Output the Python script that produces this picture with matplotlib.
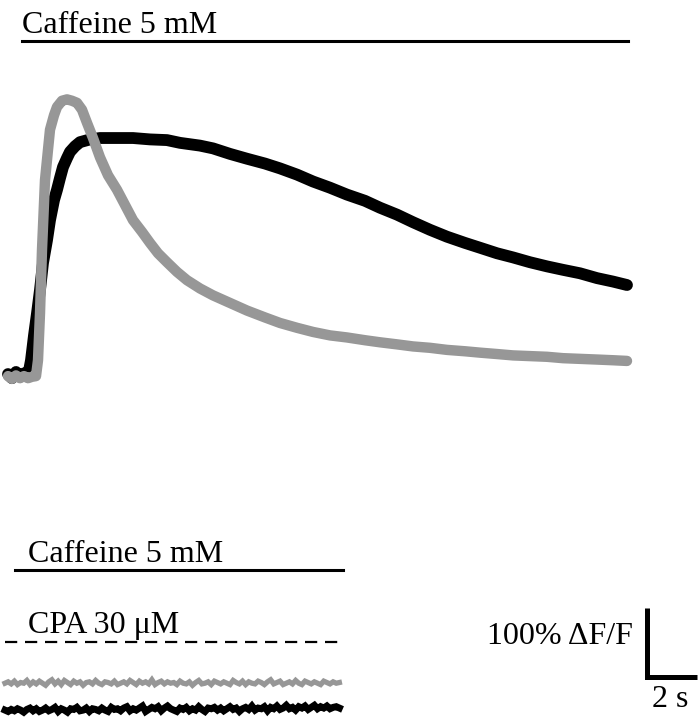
import matplotlib
matplotlib.use("Agg")
import matplotlib.pyplot as plt
import numpy as np

# ---- Top panel traces (time in s, ΔF/F in %) ----
black_t = [-0.08, 0.08, 0.24, 0.4, 0.56, 0.72, 0.84, 0.96, 1.08, 1.2, 1.32, 1.48, 1.6, 1.76,
           1.88, 2.0, 2.12, 2.28, 2.4, 2.6, 2.8, 3.2, 3.6, 4.2, 4.92, 5.6, 6.28, 6.8, 7.6,
           8.12, 8.8, 9.48, 10.2, 10.8, 11.48, 12.12, 12.8, 13.48, 14.2, 14.8, 15.48, 16.12,
           16.8, 17.48, 18.2, 18.8, 19.48, 20.12, 20.8, 21.48, 22.12, 22.8, 23.48, 24.12, 24.68]
black_v = [3, -3, 6, -1, 4, 0, 23, 59, 91, 125, 164, 197, 226, 255,
           270, 287, 303, 316, 325, 333, 339, 343, 345, 345, 345, 343, 342, 338, 334,
           330, 322, 315, 308, 301, 292, 282, 273, 263, 254, 244, 234, 223,
           212, 202, 193, 186, 178, 172, 165, 159, 154, 149, 142, 137, 132]

gray_t = [-0.08, 0.08, 0.24, 0.4, 0.56, 0.72, 0.88, 1.04, 1.12, 1.2, 1.28, 1.4, 1.52, 1.6,
          1.76, 1.88, 2.08, 2.28, 2.48, 2.68, 2.88, 3.08, 3.32, 3.6, 3.92, 4.28, 4.6, 4.92,
          5.28, 5.6, 5.92, 6.28, 6.68, 7.08, 7.6, 8.12, 8.8, 9.48, 10.2, 10.8, 11.48, 12.12,
          12.8, 13.48, 14.2, 14.8, 15.48, 16.12, 16.8, 17.48, 18.2, 18.8, 19.48, 20.12, 20.8,
          21.48, 22.12, 22.8, 23.48, 24.12, 24.68]
gray_v = [0, -4, 1, -3, 0, -3, -1, 0, 23, 91, 183, 284, 328, 357,
          378, 390, 399, 401, 399, 396, 386, 367, 345, 317, 291, 270, 248, 226,
          209, 193, 178, 165, 151, 139, 127, 117, 106, 95, 85, 77, 70, 64,
          59, 56, 52, 49, 46, 43, 41, 38, 36, 34, 32, 30, 29,
          28, 26, 25, 24, 23, 22]

# ---- Bottom panel traces (CPA): small fluctuations around baseline, %ΔF/F ----
cpa_t = [-0.2 + 0.125 * i for i in range(108)]
cpa_gray_v = [0, 2, -1, 3, -2, 1, 0, 4, -2, 2, -1, 3, 0, -3, 2, 5, -1, 3, -2, 4,
              1, -2, 3, 0, 2, -3, 1, 2, -1, 4, 0, -2, 2, 1, -1, 3, -2, 0, 2, -1,
              4, 1, -2, 3, 0, 2, -1, 5, -2, 1, 3, -1, 2, 0, 1, -2, 3, 0, -1, 2,
              -3, 1, 4, -1, 0, 2, -2, 3, 1, -1, 2, 0, -2, 4, 1, -1, 3, -2, 2, 0,
              -1, 3, 1, -2, 2, 5, -1, 1, 3, -2, 0, 2, -1, 4, 0, -2, 3, 1, -1, 2,
              0, -2, 3, 1, -1, 2, 0, 1]
cpa_black_v = [0, -2, 1, -1, 2, 0, -3, 1, 3, -1, 2, -2, 0, 3, -1, 1, 4, -2, 2, 0,
               -3, 2, 1, 4, -1, 0, 3, -2, 2, 1, -1, 3, 0, -2, 4, 1, 2, -1, 3, 5,
               -1, 2, 0, 3, 6, -2, 1, 4, 2, 5, -1, 3, 6, 2, 0, -2, 3, 1, 4, -1,
               2, 0, 5, 1, -2, 3, 2, 4, 0, 3, -1, 2, 5, 1, 3, -2, 2, 4, 1, 6,
               0, 3, 2, 5, -1, 4, 2, 6, 1, 3, 7, 2, 4, 0, 5, 3, 6, 1, 4, 7,
               2, 5, 3, 6, 2, 4, 5, 3]

# ---- Annotation text ----
caffeine_label = "Caffeine 5 mM"
cpa_label = "CPA 30 μM"
scale_y_label = "100% ΔF/F"
scale_x_label = "2 s"
scale_y_value = 100   # % ΔF/F
scale_x_value = 2     # s

# Layout constants (positions, not data)
GRAY_OFFSET = -445
BLACK_OFFSET = -484
GRAY = "#979797"

plt.rcParams['font.family'] = ['Liberation Serif', 'DejaVu Serif']

fig = plt.figure(figsize=(6.99, 7.26), dpi=100)
ax = fig.add_axes([0, 0, 1, 1])
ax.set_xlim(-0.4, 27.56)
ax.set_ylim(-507, 545)
ax.axis("off")

FS = 23

# Top panel
ax.plot(black_t, black_v, color="black", lw=8.5, solid_capstyle="round", solid_joinstyle="round")
ax.plot(gray_t, gray_v, color=GRAY, lw=7.5, solid_capstyle="round", solid_joinstyle="round")
ax.plot([0.48, 24.72], [485, 485], color="black", lw=2.2)
ax.text(0.48, 497, caffeine_label, fontsize=FS, ha="left", va="baseline")

# Bottom panel
ax.plot([0.2, 13.32], [-281, -281], color="black", lw=2.2)
ax.text(0.72, -270, caffeine_label, fontsize=FS, ha="left", va="baseline")
ax.plot([-0.2, 13.4], [-385, -385], color="black", lw=1.6, dashes=(5.5, 3.5))
ax.text(0.72, -372, cpa_label, fontsize=FS, ha="left", va="baseline")
ax.plot(cpa_t, np.array(cpa_gray_v) + GRAY_OFFSET, color=GRAY, lw=3.8,
        solid_joinstyle="miter")
ax.plot(cpa_t, np.array(cpa_black_v) + BLACK_OFFSET, color="black", lw=5.0,
        solid_joinstyle="miter")

# Scale bar
x0, y0 = 25.48, -436
ax.plot([x0, x0, x0 + scale_x_value], [y0 + scale_y_value, y0, y0], color="black",
        lw=3.6, solid_joinstyle="miter", solid_capstyle="butt")
ax.text(24.92, -378, scale_y_label, fontsize=FS, ha="right", va="center")
ax.text(26.4, -469, scale_x_label, fontsize=FS, ha="center", va="center")

fig.savefig("out.png", dpi=100)
